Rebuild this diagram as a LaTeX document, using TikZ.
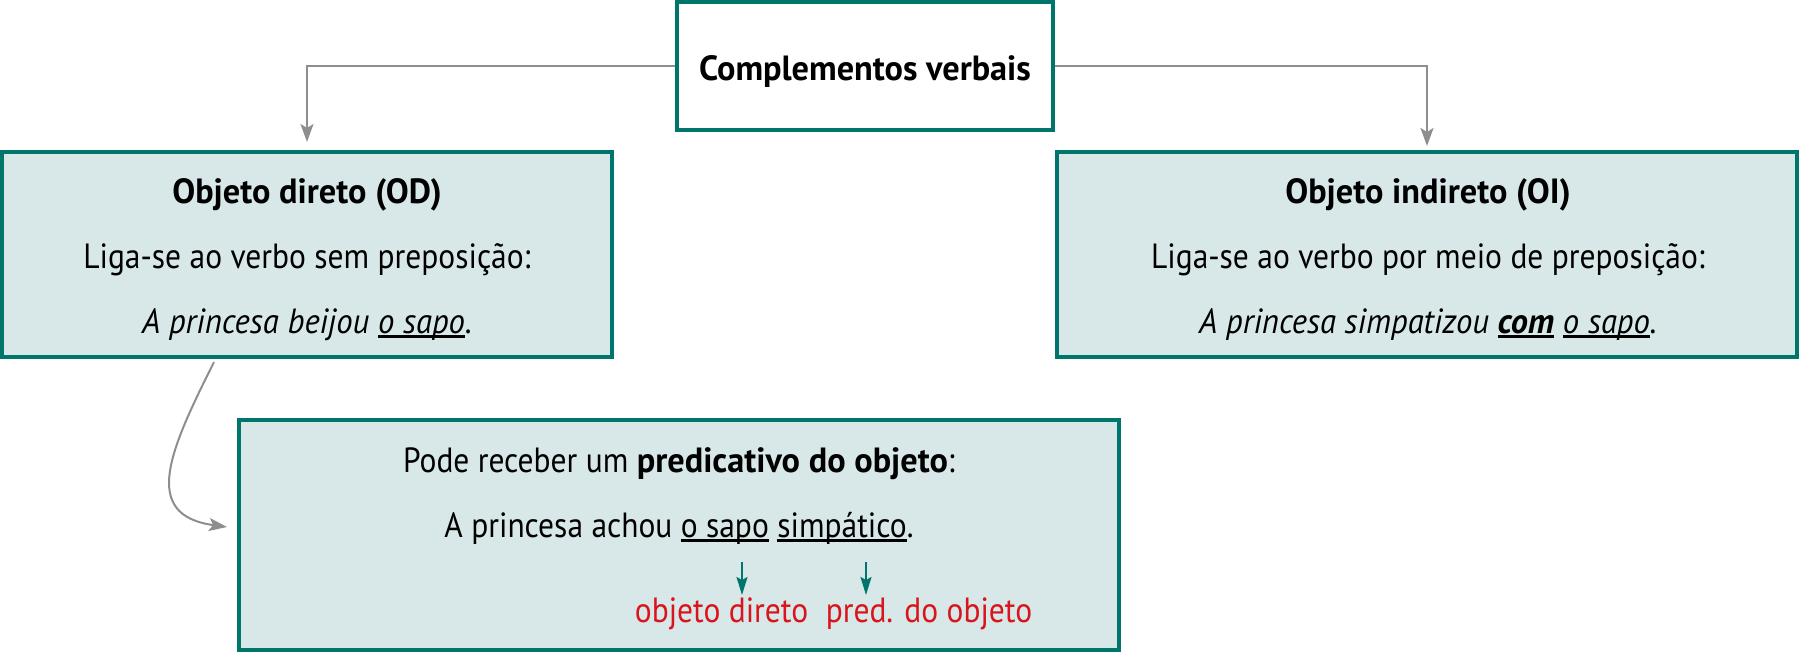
\documentclass[tikz,border=0pt]{standalone}
\usepackage{fontspec}
\setmainfont{PT Sans}[UprightFeatures={FakeStretch=0.90}, BoldFeatures={FakeStretch=0.98}, ItalicFeatures={FakeStretch=0.935}, BoldItalicFeatures={FakeStretch=0.98}]
\usetikzlibrary{arrows.meta}
\definecolor{tealb}{HTML}{00756B}
\definecolor{boxfill}{HTML}{D8E8E8}
\definecolor{graya}{HTML}{8E8E8E}
\definecolor{redl}{HTML}{D8141C}
\newcommand\myul[1]{\setbox0\hbox{#1}\rlap{\rule[-0.13em]{\wd0}{0.06em}}\box0\relax}
\begin{document}
\begin{tikzpicture}[x=0.5pt,y=-0.5pt,
  box/.style={draw=tealb, line width=2pt, fill=boxfill, inner sep=0pt},
  topbox/.style={draw=tealb, line width=2pt, fill=white, inner sep=0pt},
  txt/.style={inner sep=0pt, anchor=base, font=\fontsize{17.5}{20}\selectfont},
  redtxt/.style={txt, text=redl},
  grayarrow/.style={draw=graya, line width=1pt, -{Stealth[length=9pt,width=6.5pt,inset=2pt]}},
  tealarrow/.style={draw=tealb, line width=1pt, -{Stealth[length=9pt,width=5.5pt,inset=1.5pt]}}]
\useasboundingbox (0,0) rectangle (1800,653);
% boxes
\node[topbox, minimum width=188pt, minimum height=64pt] (top) at (865,66) {};
\node[box, minimum width=305pt, minimum height=102.5pt] (od) at (307,254.5) {};
\node[box, minimum width=370pt, minimum height=102.5pt] (oi) at (1427,254.5) {};
\node[box, minimum width=440pt, minimum height=115pt] (pred) at (679,535) {};
% texts
\node[txt] (toptxt) at (865,80) {\bfseries Complementos verbais};
\node[txt] (odt) at (307,203) {\bfseries Objeto direto (OD)};
\node[txt] (od2) at (307,268) {Liga-se ao verbo sem preposição:};
\node[txt] (od3) at (307,333) {\itshape A princesa beijou \myul{o sapo}.};
\node[txt] (oit) at (1428,203) {\bfseries Objeto indireto (OI)};
\node[txt] (oi2) at (1428,268) {Liga-se ao verbo por meio de preposição:};
\node[txt] (oi3) at (1428,333) {\itshape A princesa simpatizou \myul{\bfseries com} \myul{o sapo}.};
\node[txt] (p1) at (679,472) {Pode receber um \textbf{predicativo do objeto}:};
\node[txt] (p2) at (679,537) {A princesa achou \myul{o sapo} \myul{simpático}.};
\node[redtxt] (lbl1) at (721.5,622) {objeto direto};
\node[redtxt] (lbl2) at (929,622) {pred. do objeto};
% connectors
\draw[grayarrow, shorten >=4pt] (top.west) -| (od.north);
\draw[grayarrow, shorten >=2pt] (top.east) -| (oi.north);
\coordinate (cs) at (214,362);
\coordinate (ce) at (227,527);
\draw[grayarrow] (cs) .. controls (170,450) and (140,515) .. (ce);
\coordinate (a1s) at (742,562);
\coordinate (a1e) at (742,595);
\coordinate (a2s) at (866,562);
\coordinate (a2e) at (866,595);
\draw[tealarrow] (a1s) -- (a1e);
\draw[tealarrow] (a2s) -- (a2e);
\end{tikzpicture}
\end{document}
